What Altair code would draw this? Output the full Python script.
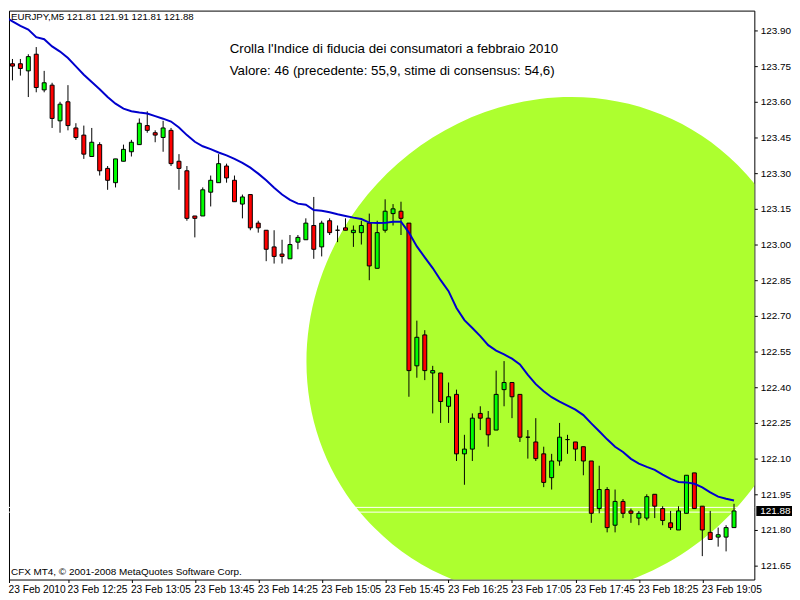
import altair as alt
import pandas as pd

# ---------------- data ----------------
opens = [123.77, 123.76, 123.76, 123.73, 123.80, 123.65, 123.67, 123.52, 123.60, 123.49,
         123.46, 123.37, 123.42, 123.32, 123.26, 123.35, 123.39, 123.42, 123.50, 123.47,
         123.45, 123.48, 123.35, 123.31, 123.12, 123.12, 123.22, 123.26, 123.33, 123.27,
         123.17, 123.21, 123.09, 123.06, 122.99, 122.96, 122.94, 123.01, 123.02, 123.08,
         122.99, 123.10, 123.06, 123.07, 123.05, 123.05, 123.09, 122.90, 123.06, 123.13,
         123.14, 123.09, 122.49, 122.62, 122.46, 122.46, 122.32, 122.37, 122.12, 122.14,
         122.29, 122.27, 122.22, 122.39, 122.42, 122.37, 122.19, 122.17, 122.12, 122.02,
         122.09, 122.18, 122.17, 122.15, 122.09, 121.89, 121.97, 121.82, 121.92, 121.88,
         121.85, 121.85, 121.95, 121.89, 121.83, 121.80, 121.87, 122.04, 121.90, 121.79,
         121.77, 121.77, 121.81]
highs = [123.81, 123.78, 123.78, 123.80, 123.83, 123.73, 123.68, 123.60, 123.67, 123.51,
         123.50, 123.49, 123.43, 123.33, 123.36, 123.42, 123.44, 123.53, 123.56, 123.48,
         123.52, 123.49, 123.38, 123.33, 123.12, 123.24, 123.29, 123.38, 123.34, 123.29,
         123.21, 123.21, 123.10, 123.06, 123.06, 123.02, 123.04, 123.04, 123.11, 123.20,
         123.10, 123.11, 123.08, 123.11, 123.08, 123.10, 123.13, 123.10, 123.19, 123.17,
         123.18, 123.09, 122.68, 122.64, 122.49, 122.46, 122.42, 122.39, 122.20, 122.29,
         122.32, 122.30, 122.47, 122.51, 122.42, 122.37, 122.22, 122.27, 122.15, 122.12,
         122.25, 122.20, 122.17, 122.15, 122.09, 122.07, 121.98, 121.97, 121.93, 121.89,
         121.88, 121.95, 121.95, 121.90, 121.88, 121.90, 122.03, 122.04, 121.90, 121.88,
         121.81, 121.82, 121.91]
lows = [123.72, 123.69, 123.71, 123.62, 123.64, 123.64, 123.49, 123.47, 123.48, 123.44,
        123.36, 123.37, 123.29, 123.23, 123.24, 123.35, 123.37, 123.42, 123.47, 123.43,
        123.39, 123.33, 123.23, 123.10, 123.03, 123.12, 123.16, 123.26, 123.26, 123.18,
        123.11, 123.06, 123.05, 122.93, 122.92, 122.92, 122.94, 122.98, 123.02, 122.94,
        122.95, 123.04, 123.01, 123.06, 122.99, 123.00, 122.85, 122.90, 123.05, 123.08,
        123.04, 122.36, 122.44, 122.43, 122.29, 122.25, 122.25, 122.09, 121.99, 122.09,
        122.22, 122.15, 122.22, 122.32, 122.27, 122.17, 122.10, 122.09, 121.98, 121.97,
        122.07, 122.12, 122.09, 122.03, 121.83, 121.87, 121.79, 121.79, 121.85, 121.83,
        121.82, 121.84, 121.85, 121.82, 121.80, 121.80, 121.87, 121.89, 121.69, 121.76,
        121.73, 121.71, 121.81]
closes = [123.77, 123.75, 123.74, 123.79, 123.66, 123.68, 123.53, 123.59, 123.50, 123.45,
          123.38, 123.43, 123.31, 123.27, 123.36, 123.40, 123.43, 123.51, 123.48, 123.46,
          123.49, 123.34, 123.32, 123.11, 123.11, 123.23, 123.27, 123.34, 123.28, 123.18,
          123.20, 123.07, 123.07, 122.98, 122.95, 122.95, 123.00, 123.03, 123.09, 122.98,
          123.09, 123.05, 123.06, 123.06, 123.06, 123.08, 122.91, 123.05, 123.14, 123.15,
          123.11, 122.47, 122.61, 122.47, 122.47, 122.34, 122.36, 122.12, 122.14, 122.27,
          122.27, 122.20, 122.37, 122.42, 122.36, 122.19, 122.19, 122.10, 122.00, 122.09,
          122.19, 122.18, 122.14, 122.09, 121.87, 121.97, 121.81, 121.92, 121.87, 121.87,
          121.87, 121.94, 121.90, 121.84, 121.81, 121.88, 122.03, 121.89, 121.80, 121.76,
          121.78, 121.81, 121.88]
moving_avg = [123.958, 123.938, 123.919, 123.904, 123.872, 123.863, 123.833, 123.811, 123.784, 123.749,
              123.714, 123.683, 123.653, 123.620, 123.592, 123.571, 123.560, 123.555, 123.551, 123.540,
              123.529, 123.517, 123.492, 123.460, 123.432, 123.413, 123.401, 123.387, 123.375, 123.360,
              123.343, 123.323, 123.298, 123.270, 123.239, 123.210, 123.188, 123.172, 123.167, 123.145,
              123.142, 123.136, 123.127, 123.120, 123.113, 123.107, 123.092, 123.090, 123.091, 123.096,
              123.096, 123.050, 122.992, 122.946, 122.901, 122.850, 122.804, 122.733, 122.682, 122.649,
              122.615, 122.577, 122.554, 122.538, 122.520, 122.496, 122.452, 122.413, 122.383, 122.358,
              122.340, 122.323, 122.306, 122.283, 122.248, 122.215, 122.181, 122.150, 122.128, 122.099,
              122.079, 122.065, 122.053, 122.033, 122.015, 122.002, 122.000, 121.994, 121.979, 121.958,
              121.940, 121.931, 121.924]

x_tick_bars = [0, 8, 16, 24, 32, 40, 48, 56, 64, 72, 80, 88]
x_tick_labels = ["23 Feb 2010", "23 Feb 12:25", "23 Feb 13:05", "23 Feb 13:45",
                 "23 Feb 14:25", "23 Feb 15:05", "23 Feb 15:45", "23 Feb 16:25",
                 "23 Feb 17:05", "23 Feb 17:45", "23 Feb 18:25", "23 Feb 19:05"]
y_ticks = [121.65, 121.80, 121.95, 122.10, 122.25, 122.40, 122.55, 122.70,
           122.85, 123.00, 123.15, 123.30, 123.45, 123.60, 123.75, 123.90]

header_text = "EURJPY,M5  121.81 121.91 121.81 121.88"
note_lines = ["Crolla l'Indice di fiducia dei consumatori a febbraio 2010",
              "Valore: 46 (precedente: 55,9, stime di consensus: 54,6)"]
copyright_text = "CFX MT4, \u00a9 2001-2008 MetaQuotes Software Corp."
bid_ask_lines = [121.875, 121.895]
last_price = 121.88

# ---------------- layout ----------------
W, H = 752, 574
PX_PER_BAR = 8
PX_PER_UNIT = 240
X_MIN = 0.5625
X_MAX = X_MIN + W / PX_PER_BAR
Y_MAX = 123.90 + 20 / PX_PER_UNIT
Y_MIN = Y_MAX - H / PX_PER_UNIT
FONT = "Liberation Sans"

df = pd.DataFrame({"bar": list(range(len(opens))), "open": opens, "high": highs,
                   "low": lows, "close": closes, "ma": moving_avg})
df["dir"] = ["up" if c >= o else "down" for o, c in zip(opens, closes)]

tick_vals = [X_MIN] + x_tick_bars[1:]
label_expr = ("[" + ",".join("'" + s + "'" for s in x_tick_labels) + "][indexof(["
              + ",".join(str(v) for v in tick_vals) + "], datum.value)]")

x_scale = alt.Scale(domain=[X_MIN, X_MAX], nice=False, zero=False, padding=0)
y_scale = alt.Scale(domain=[Y_MIN, Y_MAX], nice=False, zero=False, padding=0)
x_axis = alt.Axis(values=tick_vals, labelExpr=label_expr, title=None, grid=False,
                  domain=False, tickSize=3, tickColor="black", labelColor="black",
                  labelFont=FONT, labelFontSize=10.3, labelAlign="left", labelFlush=False,
                  labelOverlap=False, labelPadding=2, labelOffset=-1)
y_axis = alt.Axis(values=y_ticks, format=".2f", orient="right", title=None, grid=False,
                  domain=False, tickSize=3, tickColor="black", labelColor="black",
                  labelFont=FONT, labelFontSize=10, labelPadding=3, labelOverlap=False,
                  labelFlush=False)


def X(field):
    return alt.X(field, type="quantitative", scale=x_scale, axis=x_axis)


def Y(field):
    return alt.Y(field, type="quantitative", scale=y_scale, axis=y_axis)


# highlight ellipse (slightly tilted), centre in data coordinates
ELL_PATH = "M -0.7071 0.7071 A 1 0.9382 -45 1 1 0.7071 -0.7071 A 1 0.9382 -45 1 1 -0.7071 0.7071 Z"
ell_df = pd.DataFrame({"bar": [69.5625], "price": [122.571]})
ellipse = alt.Chart(ell_df).mark_point(
    shape=ELL_PATH, size=518 * 518, filled=True, fill="#ADFF2F", opacity=1,
    strokeWidth=0, clip=True).encode(x=X("bar"), y=Y("price"))

lines_df = pd.DataFrame({"price": bid_ask_lines})
bidask = alt.Chart(lines_df).mark_rule(color="white", strokeWidth=1, clip=True).encode(y=Y("price"))

wicks = alt.Chart(df).mark_rule(color="black", strokeWidth=1, clip=True).encode(
    x=X("bar"), y=Y("low"), y2="high")

bodies = alt.Chart(df).mark_bar(size=4, stroke="black", strokeWidth=1, clip=True,
                                opacity=1).encode(
    x=X("bar"), y=Y("open"), y2="close",
    color=alt.Color("dir:N", scale=alt.Scale(domain=["up", "down"],
                                             range=["#00FF00", "#FF0000"]), legend=None))

ma_line = alt.Chart(df).mark_line(color="#0000CD", strokeWidth=2, clip=True).encode(
    x=X("bar"), y=Y("ma"))

box_df = pd.DataFrame({"hi": [last_price + 0.021], "lo": [last_price - 0.021],
                       "p": [last_price], "t": [f"{last_price:.2f}"]})
price_box = alt.Chart(box_df).mark_rect(color="black").encode(
    y=Y("hi"), y2="lo", x=alt.value(W + 2), x2=alt.value(W + 38))
price_txt = alt.Chart(box_df).mark_text(color="white", align="left", baseline="middle",
                                        font=FONT, fontSize=10).encode(
    y=Y("p"), x=alt.value(W + 6), text="t:N")


def label(txt, x, y, size, baseline="alphabetic"):
    return alt.Chart(pd.DataFrame({"t": [txt]})).mark_text(
        align="left", baseline=baseline, font=FONT, fontSize=size, color="black").encode(
        x=alt.value(x), y=alt.value(y), text="t:N")


header = label(header_text, 2, 9, 9.8)
note1 = label(note_lines[0], 222.7, 43, 13.4)
note2 = label(note_lines[1], 222.7, 64.7, 13.4)
copyr = label(copyright_text, 2, 569.7, 10)

chart = alt.layer(ellipse, bidask, wicks, bodies, ma_line, price_box, price_txt,
                  header, note1, note2, copyr).properties(
    width=W, height=H, padding=0, background="white"
).configure_view(stroke="black", strokeWidth=1)

chart.save("out.html", embed_options={"renderer": "svg", "actions": False})
